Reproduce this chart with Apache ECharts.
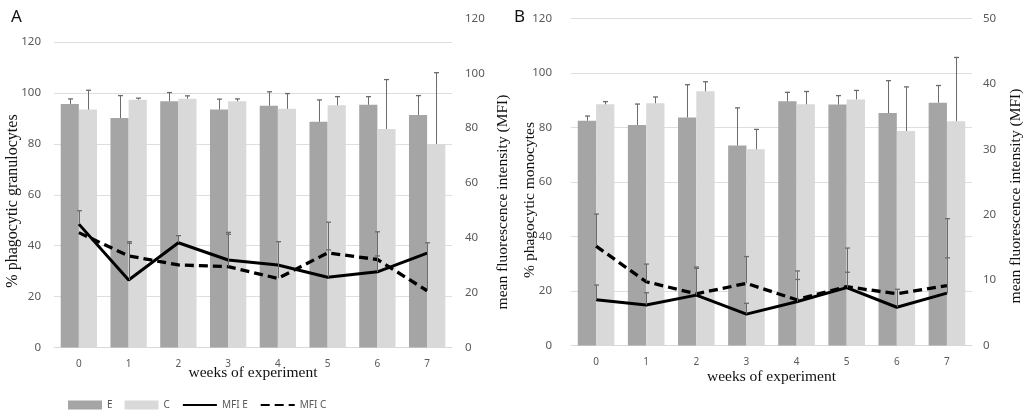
<!DOCTYPE html>
<html>
<head>
<meta charset="utf-8">
<script src="https://cdn.jsdelivr.net/npm/echarts@6/dist/echarts.min.js"></script>
<style>
html,body{margin:0;padding:0;background:#fff;}
#chart{width:1031px;height:416px;}
</style>
</head>
<body>
<div id="chart"></div>
<script>
// ---- data ----
const weeks = ['0','1','2','3','4','5','6','7'];

// Panel A: granulocytes
const aE = [95.7, 90.2, 96.8, 93.5, 95.0, 88.7, 95.4, 91.4];
const aC = [93.5, 97.4, 97.8, 96.8, 93.8, 95.2, 85.9, 80.0];
const aEerr = [97.7, 99.0, 100.2, 97.6, 100.5, 97.3, 98.6, 99.0];
const aCerr = [101.1, 98.0, 98.9, 97.7, 99.8, 98.6, 105.3, 108.0];
const aMfiE = [45.0, 24.6, 38.2, 31.9, 30.1, 25.6, 27.6, 34.4];
const aMfiC = [41.9, 33.4, 30.1, 29.5, 25.2, 34.5, 32.1, 20.7];
const aMfiEerr = [49.9, 38.6, 40.8, 42.0, 30.1, 45.7, 42.2, 34.4];
const aMfiCerr = [41.9, 38.0, 30.1, 41.3, 38.6, 35.6, 33.4, 38.2];

// Panel B: monocytes
const bE = [82.5, 80.9, 83.7, 73.4, 89.6, 88.4, 85.3, 89.1];
const bC = [88.5, 88.9, 93.3, 72.0, 88.5, 90.3, 78.7, 82.3];
const bEerr = [84.2, 88.6, 95.7, 87.2, 92.9, 91.7, 97.2, 95.4];
const bCerr = [89.5, 91.2, 96.8, 79.3, 93.2, 93.6, 94.9, 105.7];
const bMfiE = [7.0, 6.2, 7.7, 4.8, 6.7, 8.85, 5.85, 8.0];
const bMfiC = [15.2, 9.75, 7.9, 9.5, 7.0, 9.0, 7.9, 9.15];
const bMfiEerr = [9.25, 8.07, 11.8, 6.45, 11.4, 14.9, 8.6, 19.4];
const bMfiCerr = [20.1, 12.45, 12.0, 13.6, 10.1, 11.2, 7.9, 13.4];

const leftTicks = [0, 20, 40, 60, 80, 100, 120];

// ---- helpers ----
const BAR_FRAC = 0.365;
const ERR_COLOR = '#6b6b6b';
function errRows(vals, tops, side) {
  return vals.map((v, i) => [i, v, tops[i], side]);
}
function errRender(params, api) {
  const cat = api.value(0), v = api.value(1), top = api.value(2), side = api.value(3);
  if (top <= v) return null;
  const band = api.size([1, 0])[0];
  const off = side * band * BAR_FRAC / 2;
  const p0 = api.coord([cat, v]);
  const p1 = api.coord([cat, top]);
  const x = Math.round(p0[0] + off) + 0.5;
  const cap = 2.5;
  return {
    type: 'group',
    children: [
      { type: 'line', shape: { x1: x, y1: p0[1], x2: x, y2: p1[1] }, style: { stroke: ERR_COLOR, lineWidth: 1 } },
      { type: 'line', shape: { x1: x - cap, y1: p1[1], x2: x + cap, y2: p1[1] }, style: { stroke: ERR_COLOR, lineWidth: 1.3 } }
    ]
  };
}
const tickFmt = v => (leftTicks.indexOf(Math.round(v * 1000) / 1000) >= 0 ? String(v) : '');

const labelStyle = { color: '#595959', fontFamily: 'Noto Sans, Open Sans, sans-serif', fontSize: 11.5 };
const serif = 'Liberation Serif, DejaVu Serif, serif';

function xAxisDef(gridIndex, gap) {
  return {
    type: 'category', gridIndex: gridIndex, data: weeks,
    axisLine: { lineStyle: { color: '#d9d9d9', width: 1 } },
    axisTick: { show: false },
    axisLabel: { color: '#595959', fontFamily: 'Noto Sans, sans-serif', fontSize: 10, margin: 12 },
    name: 'weeks of experiment', nameLocation: 'middle', nameGap: gap, nameMoveOverlap: false,
    nameTextStyle: { fontFamily: serif, fontSize: 15.5, color: '#111' }
  };
}

const option = {
  animation: false,
  backgroundColor: '#fff',
  grid: [
    { left: 54, top: 18.5, width: 398, height: 329 },
    { left: 571, top: 18.5, width: 401, height: 327 }
  ],
  xAxis: [xAxisDef(0, 17), xAxisDef(1, 23)],
  yAxis: [
    { type: 'value', gridIndex: 0, min: 0, max: 129.3, interval: 20,
      axisLine: { show: false }, axisTick: { show: false },
      axisLabel: Object.assign({ margin: 13, formatter: tickFmt, showMaxLabel: false }, labelStyle),
      splitLine: { show: true, showMaxLine: false, lineStyle: { color: '#dedede', width: 1 } } },
    { type: 'value', gridIndex: 0, min: 0, max: 120, interval: 20, position: 'right',
      axisLine: { show: false }, axisTick: { show: false },
      axisLabel: Object.assign({ margin: 13 }, labelStyle),
      splitLine: { show: false } },
    { type: 'value', gridIndex: 1, min: 0, max: 120, interval: 20,
      axisLine: { show: false }, axisTick: { show: false },
      axisLabel: Object.assign({ margin: 19 }, labelStyle),
      splitLine: { show: true, lineStyle: { color: '#dedede', width: 1 } } },
    { type: 'value', gridIndex: 1, min: 0, max: 50, interval: 10, position: 'right',
      axisLine: { show: false }, axisTick: { show: false },
      axisLabel: Object.assign({ margin: 11 }, labelStyle),
      splitLine: { show: false } }
  ],
  legend: {
    left: 63, top: 395, itemWidth: 34, itemHeight: 9, itemGap: 12,
    textStyle: { color: '#595959', fontFamily: 'Noto Sans, sans-serif', fontSize: 10 },
    data: [
      { name: 'E', icon: 'rect' },
      { name: 'C', icon: 'rect' },
      { name: 'MFI E', itemStyle: { opacity: 0 } },
      { name: 'MFI C', itemStyle: { opacity: 0 } }
    ],
    selectedMode: false
  },
  graphic: [
    { type: 'text', left: 11, top: 9, style: { text: 'A', fontSize: 17, fontFamily: 'Noto Sans, sans-serif', fill: '#111' } },
    { type: 'text', left: 514, top: 9, style: { text: 'B', fontSize: 17, fontFamily: 'Noto Sans, sans-serif', fill: '#111' } },
    { type: 'text', x: 13, y: 201, rotation: Math.PI / 2,
      style: { text: '% phagocytic granulocytes', fontSize: 16, fontFamily: serif, fill: '#111', align: 'center', verticalAlign: 'middle' } },
    { type: 'text', x: 503, y: 202, rotation: Math.PI / 2,
      style: { text: 'mean fluorescence intensity (MFI)', fontSize: 15.5, fontFamily: serif, fill: '#111', align: 'center', verticalAlign: 'middle' } },
    { type: 'text', x: 530, y: 200, rotation: Math.PI / 2,
      style: { text: '% phagocytic monocytes', fontSize: 15.5, fontFamily: serif, fill: '#111', align: 'center', verticalAlign: 'middle' } },
    { type: 'text', x: 1016, y: 196, rotation: Math.PI / 2,
      style: { text: 'mean fluorescence intensity (MFI)', fontSize: 15.5, fontFamily: serif, fill: '#111', align: 'center', verticalAlign: 'middle' } }
  ],
  series: [
    // Panel A
    { name: 'E', type: 'bar', xAxisIndex: 0, yAxisIndex: 0, data: aE, barWidth: '36.5%', barGap: '0%', itemStyle: { color: '#a5a5a5' }, z: 2 },
    { name: 'C', type: 'bar', xAxisIndex: 0, yAxisIndex: 0, data: aC, barWidth: '36.5%', barGap: '0%', itemStyle: { color: '#d9d9d9' }, z: 2 },
    { type: 'custom', xAxisIndex: 0, yAxisIndex: 0, renderItem: errRender, data: errRows(aE, aEerr, -1).concat(errRows(aC, aCerr, 1)), z: 3, silent: true },
    { name: 'MFI E', type: 'line', xAxisIndex: 0, yAxisIndex: 1, data: aMfiE, symbol: 'none', lineStyle: { color: '#000', width: 3 }, itemStyle: { color: '#000' }, z: 4 },
    { name: 'MFI C', type: 'line', xAxisIndex: 0, yAxisIndex: 1, data: aMfiC, symbol: 'none', lineStyle: { color: '#000', width: 3.3, type: [9, 5] }, itemStyle: { color: '#000' }, z: 4 },
    { type: 'custom', xAxisIndex: 0, yAxisIndex: 1, renderItem: errRender, data: errRows(aMfiE, aMfiEerr, 0).concat(errRows(aMfiC, aMfiCerr, 0)), z: 5, silent: true },
    // Panel B
    { name: 'E', type: 'bar', xAxisIndex: 1, yAxisIndex: 2, data: bE, barWidth: '36.5%', barGap: '0%', itemStyle: { color: '#a5a5a5' }, z: 2 },
    { name: 'C', type: 'bar', xAxisIndex: 1, yAxisIndex: 2, data: bC, barWidth: '36.5%', barGap: '0%', itemStyle: { color: '#d9d9d9' }, z: 2 },
    { type: 'custom', xAxisIndex: 1, yAxisIndex: 2, renderItem: errRender, data: errRows(bE, bEerr, -1).concat(errRows(bC, bCerr, 1)), z: 3, silent: true },
    { name: 'MFI E', type: 'line', xAxisIndex: 1, yAxisIndex: 3, data: bMfiE, symbol: 'none', lineStyle: { color: '#000', width: 3 }, itemStyle: { color: '#000' }, z: 4 },
    { name: 'MFI C', type: 'line', xAxisIndex: 1, yAxisIndex: 3, data: bMfiC, symbol: 'none', lineStyle: { color: '#000', width: 3.3, type: [9, 5] }, itemStyle: { color: '#000' }, z: 4 },
    { type: 'custom', xAxisIndex: 1, yAxisIndex: 3, renderItem: errRender, data: errRows(bMfiE, bMfiEerr, 0).concat(errRows(bMfiC, bMfiCerr, 0)), z: 5, silent: true }
  ]
};

const chart = echarts.init(document.getElementById('chart'), null, { renderer: 'canvas' });
chart.setOption(option);
</script>
</body>
</html>
